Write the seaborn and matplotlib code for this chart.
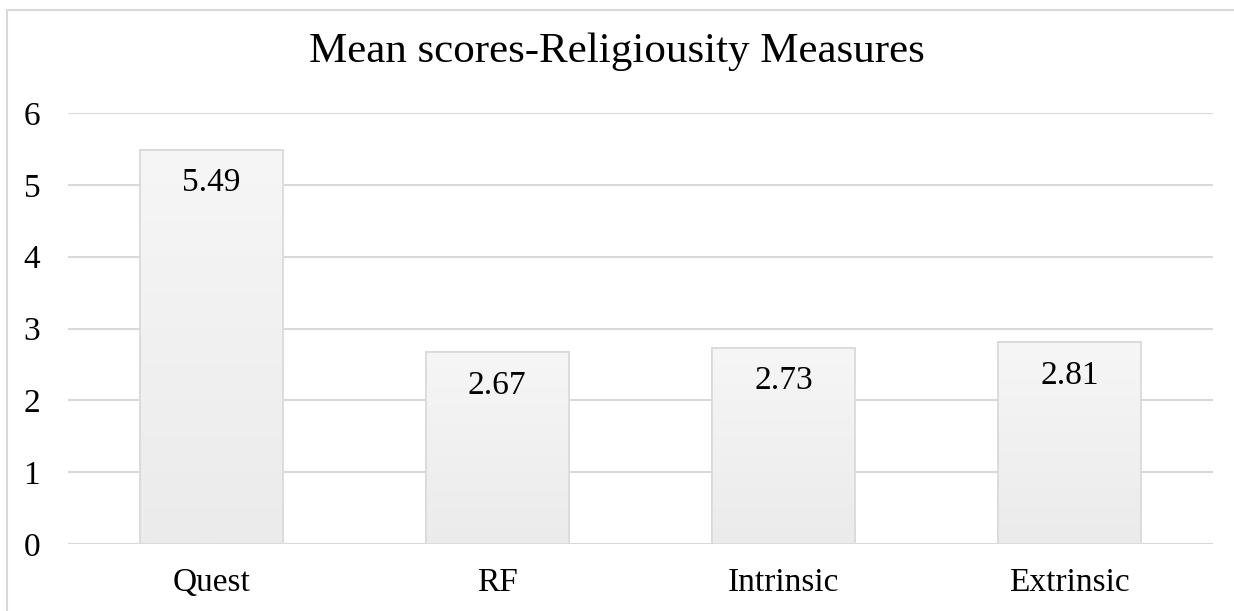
import seaborn as sns
import matplotlib.pyplot as plt
import numpy as np
import pandas as pd
from matplotlib.patches import Rectangle

categories = ['Quest', 'RF', 'Intrinsic', 'Extrinsic']
scores = [5.49, 2.67, 2.73, 2.81]
labels = ['5.49', '2.67', '2.73', '2.81']

df = pd.DataFrame({'measure': categories, 'score': scores})

sns.set_theme(style='white')
plt.rcParams['font.family'] = ['Liberation Serif', 'DejaVu Serif']

fig = plt.figure(figsize=(12.34, 6.11), dpi=100)
ax = fig.add_axes([68 / 1234, 67 / 611, (1212.5 - 68) / 1234, (544 - 113) / 611])

sns.barplot(data=df, x='measure', y='score', color='#efefef', width=0.5,
            edgecolor='#d9d9d9', linewidth=1.2, ax=ax, zorder=3)

# vertical gradient inside each bar
grad = np.linspace(0, 1, 256).reshape(-1, 1)
cmap = plt.matplotlib.colors.LinearSegmentedColormap.from_list('g', ['#ebebeb', '#f6f6f6'])
for p in list(ax.patches):
    x0, w, h = p.get_x(), p.get_width(), p.get_height()
    im = ax.imshow(grad, cmap=cmap, origin='lower', aspect='auto',
                   extent=[x0, x0 + w, 0, h], zorder=3.5)
    im.set_clip_path(p)
    ax.add_patch(Rectangle((x0, 0), w, h, fill=False, edgecolor='#d9d9d9',
                           linewidth=1.2, zorder=4))

for i, (v, t) in enumerate(zip(scores, labels)):
    ax.annotate(t, (i, v), xytext=(0, -24), textcoords='offset points',
                ha='center', va='center', fontsize=24, color='black', zorder=5)

ax.set_xlim(-0.5, 3.5)
ax.set_ylim(0, 6)
ax.set_yticks(range(0, 7))
ax.yaxis.grid(True, color='#d9d9d9', linewidth=1.5, zorder=0)
ax.set_axisbelow(True)
for s in ax.spines.values():
    s.set_visible(False)
ax.tick_params(axis='y', length=0, pad=20, labelsize=24, labelcolor='black')
ax.tick_params(axis='x', length=0, pad=17, labelsize=24, labelcolor='black')
ax.set_xlabel('')
ax.set_ylabel('')

fig.text(0.5, 1 - 52 / 611, 'Mean scores-Religiousity Measures', ha='center', va='center',
         fontsize=31, color='black')

# chart frame (runs off the right and bottom edge)
fig.patches.append(Rectangle((7 / 1234, -0.05), 1.2, 1 - 10 / 611 + 0.05, transform=fig.transFigure,
                             fill=False, edgecolor='#d9d9d9', linewidth=1.5, zorder=10))

fig.savefig('out.png', dpi=100)
